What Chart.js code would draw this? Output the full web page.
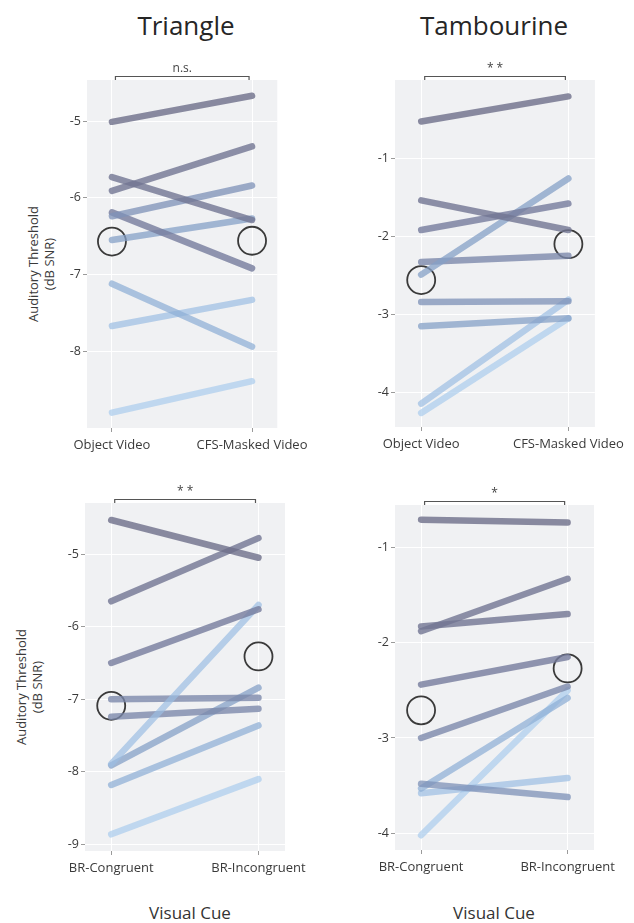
<!DOCTYPE html>
<html>
<head>
<meta charset="utf-8">
<script src="https://cdn.jsdelivr.net/npm/chart.js@4/dist/chart.umd.min.js"></script>
<style>
  html, body { margin: 0; padding: 0; background: #fff; }
  body { width: 634px; height: 923px; position: relative; overflow: hidden; font-family: "Open Sans", sans-serif; }
  canvas.panel { position: absolute; }
  .txt { position: absolute; white-space: nowrap; color: #262626; transform: translate(-50%, -50%); line-height: 1; }
  .title { font-size: 26px; }
  .xtitle { font-size: 17px; color: #333; }
  .ytitle { position: absolute; white-space: nowrap; text-align: center; font-size: 13px; line-height: 16px; color: #3a3a3a;
            transform: translate(-50%, -50%) rotate(-90deg); }
</style>
</head>
<body>
<div class="txt title" style="left:186px; top:25px;">Triangle</div>
<div class="txt title" style="left:494px; top:25px;">Tambourine</div>
<div class="ytitle" style="left:41px; top:264px;">Auditory Threshold<br>(dB SNR)</div>
<div class="ytitle" style="left:29px; top:687px;">Auditory Threshold<br>(dB SNR)</div>
<div class="txt xtitle" style="left:190px; top:912px;">Visual Cue</div>
<div class="txt xtitle" style="left:494px; top:912px;">Visual Cue</div>

<canvas id="c1" class="panel" width="317" height="462" style="left:0; top:0;"></canvas>
<canvas id="c2" class="panel" width="317" height="462" style="left:317px; top:0;"></canvas>
<canvas id="c3" class="panel" width="317" height="461" style="left:0; top:462px;"></canvas>
<canvas id="c4" class="panel" width="317" height="461" style="left:317px; top:462px;"></canvas>

<script>
// Visual cue conditions
const videoCues = ['Object Video', 'CFS-Masked Video'];
const rivalryCues = ['BR-Congruent', 'BR-Incongruent'];

// Auditory thresholds (dB SNR), one entry per participant
const triangleObject    = [-5.01, -5.91, -5.73, -6.24, -6.19, -6.55, -7.12, -7.67, -8.80];
const triangleCFS       = [-4.67, -5.33, -6.29, -5.84, -6.92, -6.27, -7.94, -7.33, -8.39];
const triangleVideoMean = [-6.57, -6.56];

const tambourineObject    = [-0.53, -1.54, -1.92, -2.49, -2.33, -2.84, -3.15, -4.14, -4.26];
const tambourineCFS       = [-0.21, -1.92, -1.58, -1.26, -2.25, -2.83, -3.05, -2.81, -3.05];
const tambourineVideoMean = [-2.56, -2.10];

const triangleCongruent   = [-4.53, -5.65, -6.50, -7.89, -7.00, -7.24, -7.91, -8.18, -8.86];
const triangleIncongruent = [-5.05, -4.78, -5.76, -5.70, -6.98, -7.13, -6.84, -7.36, -8.10];
const triangleRivalryMean = [-7.09, -6.41];

const tambourineCongruent   = [-0.71, -1.88, -1.83, -2.44, -3.00, -3.48, -3.53, -3.58, -4.02];
const tambourineIncongruent = [-0.74, -1.33, -1.70, -2.15, -2.46, -3.62, -2.58, -3.42, -2.50];
const tambourineRivalryMean = [-2.71, -2.27];

// Y-axis tick values per panel
const triangleVideoTicks   = [-8, -7, -6, -5];
const tambourineVideoTicks = [-4, -3, -2, -1];
const triangleRivalryTicks = [-9, -8, -7, -6, -5];
const tambourineRivalryTicks = [-4, -3, -2, -1];

// Significance of the paired comparison
const significance = ['n.s.', '* *', '* *', '*'];

// Line shades, dark slate to pale blue
const palette = [
  'rgba(110,111,138,0.80)', 'rgba(114,117,146,0.80)', 'rgba(118,124,156,0.80)',
  'rgba(122,134,169,0.78)', 'rgba(126,146,184,0.76)', 'rgba(132,159,199,0.74)',
  'rgba(142,175,214,0.72)', 'rgba(155,190,227,0.70)', 'rgba(170,204,237,0.70)'
];
const shadeTriVideo = [0, 1, 1, 4, 2, 5, 6, 7, 8];
const shadeTamVideo = [0, 1, 2, 5, 3, 4, 5, 7, 8];
const shadeTriRival = [0, 1, 2, 7, 3, 3, 5, 6, 8];
const shadeTamRival = [0, 1, 1, 2, 3, 4, 6, 7, 8];

const FONT = '"Open Sans", sans-serif';

const panelDecor = {
  id: 'panelDecor',
  beforeDraw(chart) {
    const { ctx, chartArea: a } = chart;
    ctx.save();
    ctx.fillStyle = '#f0f1f3';
    ctx.fillRect(a.left, a.top, a.right - a.left, a.bottom - a.top);
    ctx.restore();
  },
  afterDraw(chart, args, opts) {
    const { ctx, chartArea: a, scales: { x } } = chart;
    const x0 = x.getPixelForValue(0) + 3.5;
    const x1 = x.getPixelForValue(1) - 3;
    const y = Math.round(a.top - opts.gap) + 0.5;
    ctx.save();
    ctx.strokeStyle = '#555';
    ctx.lineWidth = 1.2;
    ctx.beginPath();
    ctx.moveTo(x0, y + 3.5); ctx.lineTo(x0, y); ctx.lineTo(x1, y); ctx.lineTo(x1, y + 3.5);
    ctx.stroke();
    ctx.fillStyle = '#444';
    ctx.font = '12px ' + FONT;
    ctx.textAlign = 'center';
    ctx.textBaseline = 'middle';
    ctx.fillText(opts.label, (x0 + x1) / 2, y - opts.labelGap);
    ctx.restore();
  }
};

function makePanel(id, cues, left, right, means, shades, ticks, yMin, yMax, pad, sig) {
  const datasets = left.map((v, i) => ({
    data: [{ x: 0, y: v }, { x: 1, y: right[i] }],
    borderColor: palette[shades[i]],
    borderWidth: 6.5,
    borderCapStyle: 'round',
    pointRadius: 0,
    tension: 0
  }));
  datasets.push({
    data: [{ x: 0, y: means[0] }, { x: 1, y: means[1] }],
    showLine: false,
    pointRadius: 14,
    pointBackgroundColor: 'rgba(0,0,0,0)',
    pointBorderColor: '#3a3a3a',
    pointBorderWidth: 1.8
  });
  return new Chart(document.getElementById(id), {
    type: 'line',
    data: { datasets },
    plugins: [panelDecor],
    options: {
      responsive: false,
      animation: false,
      devicePixelRatio: 1,
      events: [],
      layout: { padding: pad },
      plugins: {
        legend: { display: false },
        tooltip: { enabled: false },
        panelDecor: { label: sig, gap: 4.5, labelGap: 8 }
      },
      scales: {
        x: {
          type: 'linear',
          min: -0.178,
          max: 1.18,
          afterBuildTicks: s => { s.ticks = [{ value: 0 }, { value: 1 }]; },
          afterFit: s => { s.height = 30; },
          ticks: {
            callback: v => cues[v],
            color: '#3a3a3a',
            font: { family: FONT, size: 13 },
            padding: 5,
            maxRotation: 0,
            autoSkip: false
          },
          grid: { color: '#ffffff', lineWidth: 1, tickColor: '#9a9a9a', tickLength: 4, drawTicks: true },
          border: { display: false }
        },
        y: {
          min: yMin,
          max: yMax,
          afterBuildTicks: s => { s.ticks = ticks.map(v => ({ value: v })); },
          afterFit: s => { s.width = 30; },
          ticks: {
            callback: v => String(v),
            color: '#3a3a3a',
            font: { family: FONT, size: 12.5 },
            padding: 2
          },
          grid: { color: '#ffffff', lineWidth: 1, tickColor: '#9a9a9a', tickLength: 4, drawTicks: true },
          border: { display: false }
        }
      }
    }
  });
}

makePanel('c1', videoCues, triangleObject, triangleCFS, triangleVideoMean, shadeTriVideo,
  triangleVideoTicks, -9.0, -4.465, { left: 57, right: 34, top: 80, bottom: 4 }, significance[0]);
makePanel('c2', videoCues, tambourineObject, tambourineCFS, tambourineVideoMean, shadeTamVideo,
  tambourineVideoTicks, -4.44, 0, { left: 48, right: 39, top: 80, bottom: 5 }, significance[1]);
makePanel('c3', rivalryCues, triangleCongruent, triangleIncongruent, triangleRivalryMean, shadeTriRival,
  triangleRivalryTicks, -9.09, -4.296, { left: 55, right: 32, top: 41, bottom: 42 }, significance[2]);
makePanel('c4', rivalryCues, tambourineCongruent, tambourineIncongruent, tambourineRivalryMean, shadeTamRival,
  tambourineRivalryTicks, -4.175, -0.556, { left: 48, right: 40, top: 43, bottom: 43 }, significance[3]);
</script>
</body>
</html>
